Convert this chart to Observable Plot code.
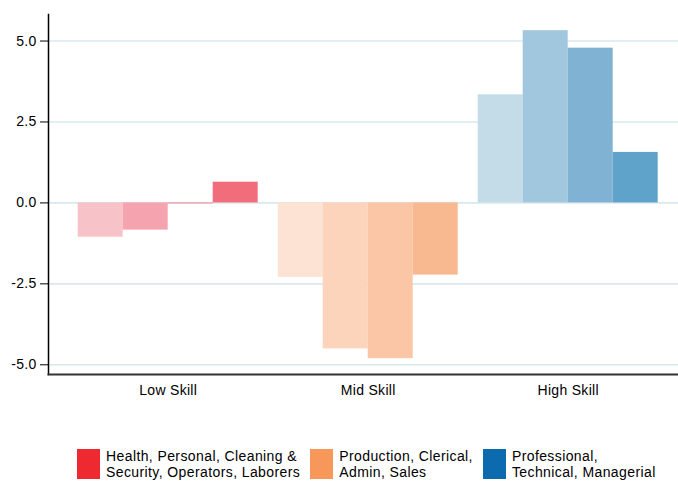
<!DOCTYPE html>
<html>
<head>
<meta charset="utf-8">
<script src="https://cdn.jsdelivr.net/npm/d3@7"></script>
<script src="https://cdn.jsdelivr.net/npm/@observablehq/plot@0.6"></script>
<style>
  html, body { margin: 0; padding: 0; background: #fff; }
  body { width: 678px; height: 481px; overflow: hidden; font-family: "Liberation Sans", Arial, sans-serif; }
  #chart svg { display: block; }
  .legend { display: flex; align-items: flex-start; margin: 24px 0 0 77px; }
  .legend .item { display: flex; align-items: flex-start; margin-right: 10px; }
  .legend .swatch { width: 23px; height: 30px; flex: none; }
  .legend .label { margin-left: 6px; margin-top: -1px; font-size: 14px; line-height: 16px; letter-spacing: 0.4px; color: #000; }
</style>
</head>
<body>
<div id="chart"></div>
<div class="legend" id="legend"></div>
<script>
// Skill groups on the horizontal axis
const groups = ["Low Skill", "Mid Skill", "High Skill"];

// Four bars per group, left to right
const lowValues = [-1.06, -0.84, -0.03, 0.64];
const midValues = [-2.30, -4.51, -4.81, -2.23];
const highValues = [3.34, 5.32, 4.78, 1.56];

// Bar shades per group, lightest to darkest
const lowColors = ["#f8c2c9", "#f5a3ae", "#f3889a", "#f26d7b"];
const midColors = ["#fde3d4", "#fcd4bb", "#fbc6a5", "#f8b990"];
const highColors = ["#c3dce7", "#a0c7dd", "#80b3d3", "#60a3ca"];

// Y axis ticks
const yTicks = [-5, -2.5, 0, 2.5, 5];

// Legend entries
const legendLabels = [
  ["Health, Personal, Cleaning &", "Security, Operators, Laborers"],
  ["Production, Clerical,", "Admin, Sales"],
  ["Professional,", "Technical, Managerial"]
];
const legendColors = ["#ee2a30", "#f7985a", "#0c6aae"];

// Each group sits at an integer position; its four bars share 90% of the unit step
const groupSpan = 0.9;
const barsPerGroup = 4;
const barStep = groupSpan / barsPerGroup;

const valuesByGroup = [lowValues, midValues, highValues];
const colorsByGroup = [lowColors, midColors, highColors];
const rows = groups.flatMap((group, g) =>
  valuesByGroup[g].map((value, slot) => ({
    group,
    value,
    color: colorsByGroup[g][slot],
    x1: g - groupSpan / 2 + slot * barStep,
    x2: g - groupSpan / 2 + (slot + 1) * barStep
  }))
);

const chart = Plot.plot({
  width: 678,
  height: 425,
  marginLeft: 48,
  marginRight: 0,
  marginTop: 14,
  marginBottom: 51,
  style: {fontFamily: "'Liberation Sans', Arial, sans-serif", fontSize: "14px", color: "#000", background: "#fff", letterSpacing: "0.3px"},
  x: {domain: [-0.5985, 2.5515], axis: null},
  y: {domain: [-5.3, 5.82], axis: null},
  color: {type: "identity"},
  marks: [
    Plot.ruleY(yTicks, {stroke: "#d8e8ec", strokeWidth: 1.6}),
    Plot.rectY(rows, {x1: "x1", x2: "x2", y: "value", fill: "color"}),
    Plot.frame({anchor: "left", stroke: "#000", strokeWidth: 1.5}),
    Plot.frame({anchor: "bottom", stroke: "#333", strokeWidth: 2}),
    Plot.axisY(yTicks, {anchor: "left", tickSize: 8, tickPadding: 4, fontSize: 14, stroke: "#000", tickFormat: d => d.toFixed(1), label: null}),
    Plot.axisX(groups.map((_, g) => g), {anchor: "bottom", tickSize: 0, tickPadding: 11, fontSize: 14, tickFormat: g => groups[g], label: null})
  ]
});
document.getElementById("chart").append(chart);

// HTML legend below the plot
const legend = d3.select("#legend");
legendLabels.forEach((lines, i) => {
  const item = legend.append("div").attr("class", "item");
  item.append("div").attr("class", "swatch").style("background", legendColors[i]);
  const label = item.append("div").attr("class", "label");
  lines.forEach(line => label.append("div").text(line));
});
</script>
</body>
</html>
